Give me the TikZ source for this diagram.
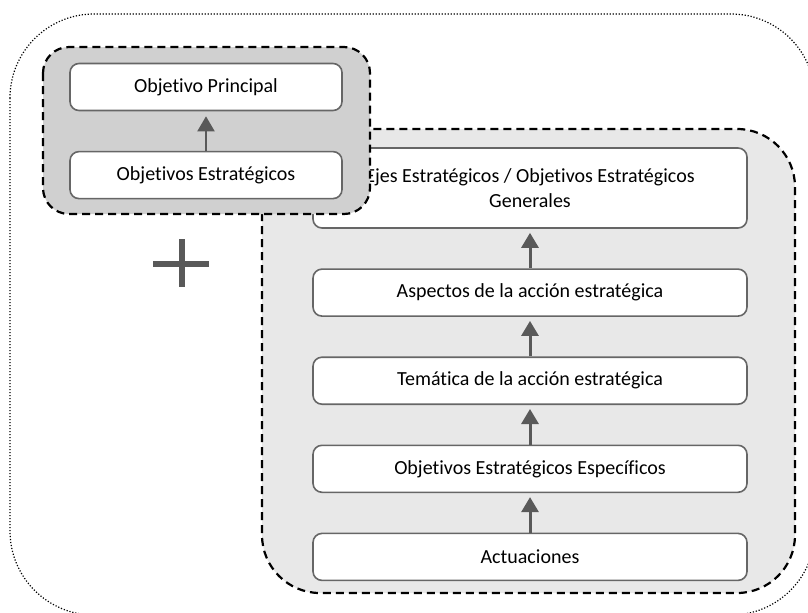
\documentclass[tikz,border=0pt]{standalone}
\usepackage{fontspec}
\setmainfont{Carlito}[Ligatures={NoCommon,NoContextual}]
\usetikzlibrary{positioning,arrows.meta}
\definecolor{fillmid}{HTML}{D0D0D0}
\definecolor{filllight}{HTML}{E8E8E8}
\definecolor{boxline}{HTML}{666666}
\definecolor{arrowgray}{HTML}{595959}

\begin{document}
\begin{tikzpicture}[x=0.5pt, y=-0.5pt, node distance=19.75pt,
  box/.style = {shape=rectangle, draw=boxline, line width=0.8pt,
    rounded corners=4.5pt, fill=white, align=center,
    minimum height=23.5pt, inner sep=2pt,
    font=\fontsize{10}{12.5}\selectfont},
  wide/.style = {box, minimum width=217pt},
  narrow/.style = {box, minimum width=136pt},
  group/.style = {draw=black, line width=1.1pt, dash pattern=on 4pt off 2.5pt},
  up/.style = {draw=arrowgray, line width=1.5pt,
    -{Triangle[length=7.5pt,width=8.5pt]}, shorten >=2pt}]
  \useasboundingbox (0,0) rectangle (808,612);
  % outer frame
  \draw[line width=0.6pt, dash pattern=on 0.6pt off 0.9pt, rounded corners=42pt]
    (10,14) rectangle (815,615);
  % right group
  \draw[group, fill=filllight, rounded corners=29pt] (262,129) rectangle (795,593);
  \node[wide, minimum height=40pt] (ejes) at (530,188)
    {Ejes Estratégicos / Objetivos Estratégicos\\Generales};
  \node[wide, below=of ejes] (aspectos) {Aspectos de la acción estratégica};
  \node[wide, below=of aspectos] (tematica) {Temática de la acción estratégica};
  \node[wide, below=of tematica] (especificos) {Objetivos Estratégicos Específicos};
  \node[wide, below=of especificos] (actuaciones) {Actuaciones};
  \draw[up] (aspectos) -- (ejes);
  \draw[up] (tematica) -- (aspectos);
  \draw[up] (especificos) -- (tematica);
  \draw[up] (actuaciones) -- (especificos);
  % plus
  \draw[arrowgray, line width=3pt] (153,264) -- (209,264) (182,239) -- (182,287);
  % left group
  \draw[group, fill=fillmid, rounded corners=13pt] (43,47) rectangle (370,214);
  \node[narrow] (principal) at (206,87) {Objetivo Principal};
  \node[narrow, below=of principal] (estrategicos) {Objetivos Estratégicos};
  \draw[up, line width=1pt, shorten >=2.5pt] (estrategicos) -- (principal);
\end{tikzpicture}
\end{document}
